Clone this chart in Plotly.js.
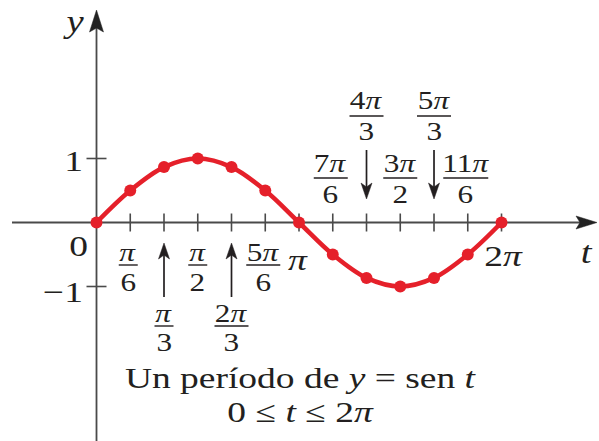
<!DOCTYPE html>
<html>
<head>
<meta charset="utf-8">
<script src="https://cdn.plot.ly/plotly-3.0.1.min.js"></script>
<style>
  html, body { margin: 0; padding: 0; background: #fff; }
  #chart { width: 599px; height: 441px; }
  /* the typeface is set a little wide */
  #chart .annotation-text {
    transform-box: fill-box;
    transform-origin: center;
    transform: scaleX(1.25);
  }
</style>
</head>
<body>
<div id="chart"></div>
<script>
// One period of y = sen t, sampled every π/6
const tValues = [0, Math.PI / 6, Math.PI / 3, Math.PI / 2, 2 * Math.PI / 3, 5 * Math.PI / 6, Math.PI,
                 7 * Math.PI / 6, 4 * Math.PI / 3, 3 * Math.PI / 2, 5 * Math.PI / 3, 11 * Math.PI / 6, 2 * Math.PI];
const yValues = [0, 0.5, 0.866, 1, 0.866, 0.5, 0, -0.5, -0.866, -1, -0.866, -0.5, 0];

// Tick marks on the t axis (multiples of π/6) and on the y axis
const tTickSteps = [1, 2, 3, 4, 5, 6, 7, 8, 9, 10, 11, 12];
const yTickValues = [1, -1];
const yTickLabels = ['1', '\u22121'];

// Fraction labels on the t axis
const fracSteps = [1, 2, 3, 4, 5, 7, 8, 9, 10, 11];
const fracNum   = ['π', 'π', 'π', '2π', '5π', '7π', '4π', '3π', '5π', '11π'];
const fracDen   = ['6', '3', '2', '3', '6', '6', '3', '2', '3', '6'];
const fracPlace = ['below', 'belowArrow', 'below', 'belowArrow', 'below',
                   'above', 'aboveArrow', 'above', 'aboveArrow', 'above'];

const captionLines = ['Un período de <i>y</i> = sen <i>t</i>', '0 ≤ <i>t</i> ≤ 2<i>π</i>'];

// ---- geometry helpers (pixel <-> data) ----
const W = 599, H = 441;
const OX = 96.5, OY = 222.5;   // origin in pixels
const SX = 64.46, SY = 64;     // pixels per unit
const dx = p => (p - OX) / SX;
const dy = p => (OY - p) / SY;
const STEP = Math.PI / 6;

const SERIF = '"Liberation Serif", "Times New Roman", serif';
const INK = '#231f20';
const AXIS = '#4a4a4a';
const RED = '#e5202a';

const shapes = [];
const annotations = [];

function line(x0, y0, x1, y1, color, width) {
  shapes.push({ type: 'line', xref: 'x', yref: 'y', x0: dx(x0), y0: dy(y0), x1: dx(x1), y1: dy(y1),
                line: { color: color, width: width }, layer: 'below' });
}
function poly(pts, color) {
  const d = pts.map((p, i) => (i ? 'L' : 'M') + dx(p[0]).toFixed(5) + ',' + dy(p[1]).toFixed(5)).join(' ') + ' Z';
  shapes.push({ type: 'path', xref: 'x', yref: 'y', path: d, fillcolor: color,
                line: { color: color, width: 0.5 }, layer: 'below' });
}
function label(text, xpx, ypx, size, opts) {
  annotations.push(Object.assign({
    text: text, xref: 'x', yref: 'y', x: dx(xpx), y: dy(ypx),
    showarrow: false, xanchor: 'center', yanchor: 'middle',
    font: { family: SERIF, size: size, color: INK }
  }, opts || {}));
}

// ---- axes ----
line(12, OY, 580, OY, AXIS, 1.8);
poly([[597, OY], [576, OY - 6.5], [580, OY], [576, OY + 6.5]], '#222');
line(OX, 441, OX, 28, AXIS, 1.8);
poly([[OX, 10], [OX - 7, 32], [OX, 28], [OX + 7, 32]], '#222');

tTickSteps.forEach(k => {
  const xp = OX + k * STEP * SX;
  line(xp, OY - 9, xp, OY + 9, AXIS, 1.6);
});
yTickValues.forEach(v => {
  const yp = OY - v * SY;
  line(OX - 10, yp, OX + 10, yp, AXIS, 1.6);
});

// ---- axis labels ----
label('<i>y</i>', 73, 21, 31);
label('<i>t</i>', 587, 252, 31);
label('0', 78, 245, 30);
label(yTickLabels[0], 73, 160, 30);
label(yTickLabels[1], 63, 291, 30);
label('<i>π</i>', 298, 259, 30);
label('2<i>π</i>', 503, 255, 30);

// ---- fraction labels ----
const levels = {
  below:      { num: 252, bar: 265, den: 282 },
  belowArrow: { num: 313, bar: 326, den: 342, a0: 297, a1: 243 },
  above:      { num: 163, bar: 178, den: 194 },
  aboveArrow: { num: 100, bar: 116, den: 131, a0: 150, a1: 199 }
};
fracSteps.forEach((k, i) => {
  const xp = OX + k * STEP * SX;
  const lv = levels[fracPlace[i]];
  const n = fracNum[i];
  const numText = n.replace('π', '<i>π</i>');
  const wBar = n.length === 1 ? 19 : (n.length === 2 ? 34 : 45);
  const cx = (fracPlace[i] === 'above' || fracPlace[i] === 'below') && k !== 3 && k !== 9 ? xp - 2 : xp;
  label(numText, cx, lv.num, 25);
  line(cx - wBar / 2, lv.bar, cx + wBar / 2, lv.bar, INK, 1.4);
  label(fracDen[i], cx, lv.den, 25);
  if (lv.a0 !== undefined) {
    const dir = Math.sign(lv.a1 - lv.a0);
    line(xp, lv.a0, xp, lv.a1 - dir * 10, INK, 1.7);
    poly([[xp, lv.a1], [xp - 5.5, lv.a1 - dir * 16], [xp, lv.a1 - dir * 12], [xp + 5.5, lv.a1 - dir * 16]], INK);
  }
});

// ---- caption ----
label(captionLines[0], 300, 377, 30);
label(captionLines[1], 300, 411, 30);

// ---- the sine curve ----
const trace = {
  x: tValues, y: yValues, type: 'scatter', mode: 'lines+markers',
  line: { color: RED, width: 4.5, shape: 'spline', smoothing: 1 },
  marker: { color: RED, size: 12 },
  hoverinfo: 'skip', cliponaxis: false
};

const layout = {
  width: W, height: H,
  margin: { l: 0, r: 0, t: 0, b: 0 },
  paper_bgcolor: '#fff', plot_bgcolor: '#fff',
  showlegend: false,
  xaxis: { range: [dx(0), dx(W)], visible: false, fixedrange: true },
  yaxis: { range: [dy(H), dy(0)], visible: false, fixedrange: true },
  shapes: shapes,
  annotations: annotations
};

Plotly.newPlot('chart', [trace], layout, { staticPlot: true, displayModeBar: false });
</script>
</body>
</html>
